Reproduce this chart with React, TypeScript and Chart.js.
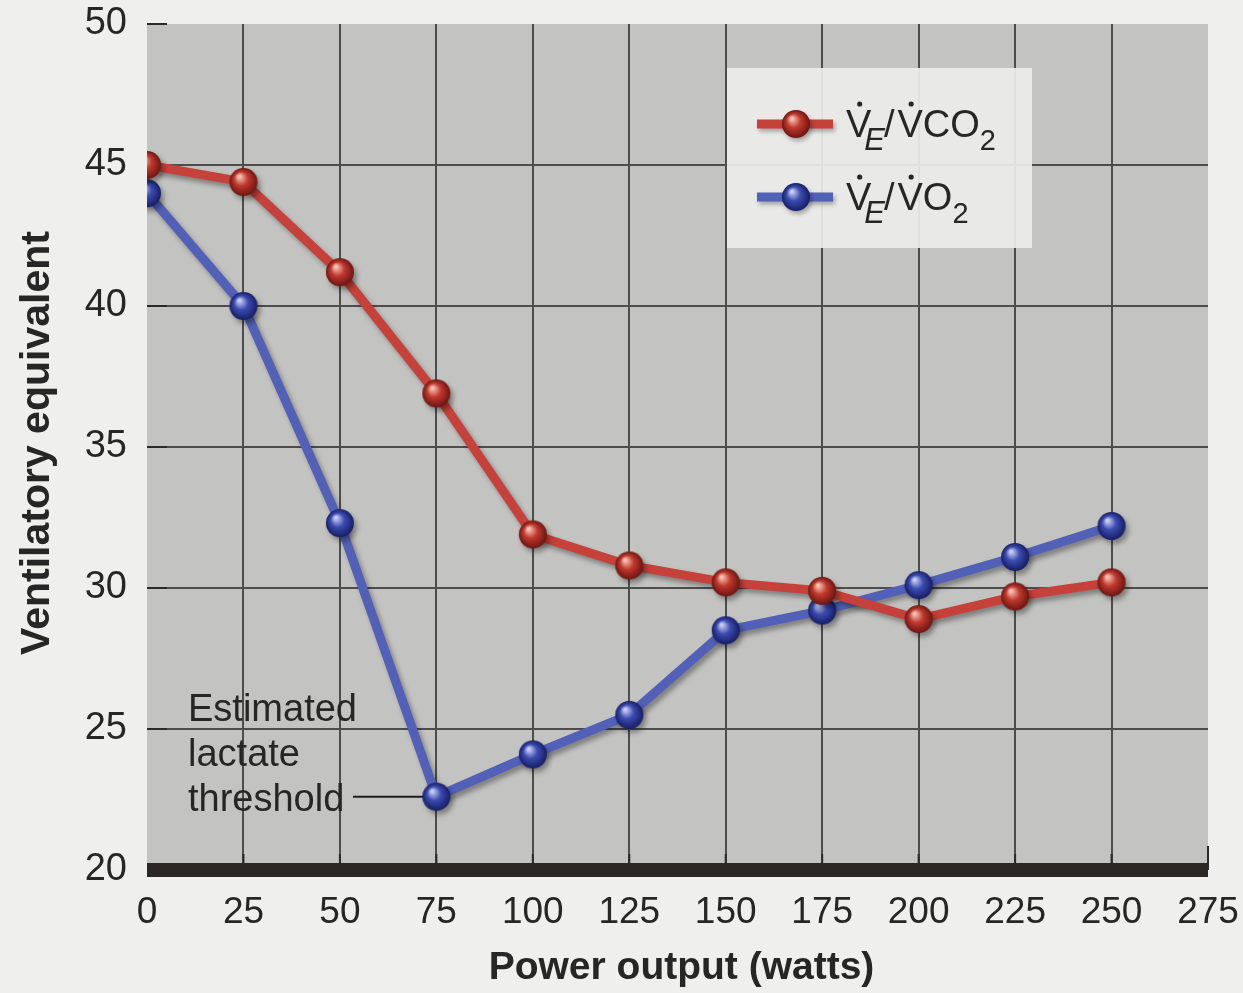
import React, { useEffect, useRef } from "react";
import { Chart, registerables } from "chart.js";

Chart.register(...registerables);

// ---- data ----
const powerWatts = [0, 25, 50, 75, 100, 125, 150, 175, 200, 225, 250];
const veOverVco2 = [45.0, 44.4, 41.2, 36.9, 31.9, 30.8, 30.2, 29.9, 28.9, 29.7, 30.2];
const veOverVo2 = [44.0, 40.0, 32.3, 22.6, 24.1, 25.5, 28.5, 29.2, 30.1, 31.1, 32.2];
const xTickValues = [0, 25, 50, 75, 100, 125, 150, 175, 200, 225, 250, 275];
const yTickValues = [20, 25, 30, 35, 40, 45, 50];
const xAxisTitle = "Power output (watts)";
const yAxisTitle = "Ventilatory equivalent";
const annotationLines = ["Estimated", "lactate", "threshold"];
const thresholdIndex = 3;

// ---- styles ----
const FONT = '"Liberation Sans", Arial, Helvetica, sans-serif';
const TEXT = "#262626";
const PAGE_BG = "#efefed";
const PLOT_BG = "#c3c3c1";
const GRID = "#4d4d4d";
const RED_LINE = "#c5413a";
const BLUE_LINE = "#5260b8";

function makeSphere(r: number, light: string, mid: string, dark: string) {
  const c = document.createElement("canvas");
  const s = Math.ceil(r * 2 + 2);
  c.width = s;
  c.height = s;
  const g = c.getContext("2d")!;
  const cx = s / 2;
  const cy = s / 2;
  const grad = g.createRadialGradient(cx - r * 0.3, cy - r * 0.4, r * 0.08, cx, cy, r);
  grad.addColorStop(0, light);
  grad.addColorStop(0.45, mid);
  grad.addColorStop(1, dark);
  g.fillStyle = grad;
  g.beginPath();
  g.arc(cx, cy, r, 0, Math.PI * 2);
  g.fill();
  return c;
}

function drawRatioLabel(ctx: CanvasRenderingContext2D, x: number, y: number, tail: string) {
  const big = `38px ${FONT}`;
  const sub = `italic 31px ${FONT}`;
  const sub2 = `29px ${FONT}`;
  ctx.fillStyle = TEXT;
  ctx.textAlign = "left";
  ctx.textBaseline = "alphabetic";
  const dot = (cx: number) => {
    ctx.beginPath();
    ctx.arc(cx, y - 33, 2.6, 0, Math.PI * 2);
    ctx.fill();
  };
  ctx.font = big;
  const vw = ctx.measureText("V").width;
  ctx.fillText("V", x, y);
  dot(x + vw / 2 + 1);
  ctx.font = sub;
  const ex = x + vw * 0.72;
  ctx.fillText("E", ex, y + 13);
  let cx = ex + ctx.measureText("E").width - 1;
  ctx.font = big;
  ctx.fillText("/", cx, y);
  cx += ctx.measureText("/").width + 3;
  ctx.fillText("V", cx, y);
  dot(cx + vw / 2 + 1);
  cx += vw;
  ctx.fillText(tail, cx, y);
  cx += ctx.measureText(tail).width;
  ctx.font = sub2;
  ctx.fillText("2", cx, y + 13);
}

function zeroPadding(s: any) {
  s.paddingTop = 0;
  s.paddingBottom = 0;
  s.paddingLeft = 0;
  s.paddingRight = 0;
}

export default function App() {
  const ref = useRef<HTMLCanvasElement | null>(null);

  useEffect(() => {
    const canvas = ref.current;
    if (!canvas) return;
    const redSphere = makeSphere(14, "#f6c2b4", "#c0392e", "#6e1510");
    const blueSphere = makeSphere(14, "#c8cdf6", "#3c4cb0", "#161e66");

    const decor = {
      id: "decor",
      beforeDraw(chart: any) {
        const { ctx, chartArea: a } = chart;
        ctx.save();
        ctx.fillStyle = PAGE_BG;
        ctx.fillRect(0, 0, chart.width, chart.height);
        ctx.fillStyle = PLOT_BG;
        ctx.fillRect(a.left, a.top, a.right - a.left, a.bottom - a.top);
        ctx.restore();
      },
      beforeDatasetsDraw(chart: any) {
        const { ctx, chartArea: a, scales } = chart;
        const xs = scales.x;
        const ys = scales.y;
        ctx.save();
        ctx.strokeStyle = "#2a2a2a";
        ctx.lineWidth = 2;
        // y tick marks inside
        yTickValues.forEach((v) => {
          if (v === yTickValues[0]) return;
          const py = ys.getPixelForValue(v);
          ctx.beginPath();
          ctx.moveTo(a.left, py);
          ctx.lineTo(a.left + 20, py);
          ctx.stroke();
        });
        // x tick marks inside
        xTickValues.forEach((v) => {
          if (v === 0) return;
          const px = xs.getPixelForValue(v);
          const len = v === xTickValues[xTickValues.length - 1] ? 24 : 16;
          ctx.beginPath();
          ctx.moveTo(px, a.bottom);
          ctx.lineTo(px, a.bottom - len);
          ctx.stroke();
        });
        // thick bottom bar
        ctx.fillStyle = "#2b2724";
        ctx.fillRect(a.left, a.bottom - 7, a.right - a.left, 14);
        // annotation
        const tx = xs.getPixelForValue(powerWatts[thresholdIndex]);
        const ty = ys.getPixelForValue(veOverVo2[thresholdIndex]);
        ctx.fillStyle = TEXT;
        ctx.font = `38px ${FONT}`;
        ctx.textAlign = "left";
        ctx.textBaseline = "alphabetic";
        const lx = a.left + 41;
        const n = annotationLines.length;
        annotationLines.forEach((t, i) => {
          ctx.fillText(t, lx, ty + 14 - (n - 1 - i) * 45);
        });
        ctx.strokeStyle = "#1e1e1e";
        ctx.lineWidth = 2;
        ctx.beginPath();
        ctx.moveTo(lx + 165, ty);
        ctx.lineTo(tx - 12, ty);
        ctx.stroke();
        ctx.restore();
        // shadow for datasets
        ctx.save();
        ctx.shadowColor = "rgba(0,0,0,0.35)";
        ctx.shadowOffsetX = 3;
        ctx.shadowOffsetY = 4;
        ctx.shadowBlur = 5;
      },
      afterDatasetsDraw(chart: any) {
        chart.ctx.restore();
      },
      afterDraw(chart: any) {
        const { ctx, chartArea: a } = chart;
        ctx.save();
        // legend box
        ctx.fillStyle = "rgba(236,236,234,0.93)";
        ctx.fillRect(727, 68, 305, 180);
        const rows = [
          { y: 124, color: RED_LINE, sphere: redSphere, tail: "CO" },
          { y: 197, color: BLUE_LINE, sphere: blueSphere, tail: "O" },
        ];
        rows.forEach((r) => {
          ctx.save();
          ctx.shadowColor = "rgba(0,0,0,0.3)";
          ctx.shadowOffsetX = 2;
          ctx.shadowOffsetY = 3;
          ctx.shadowBlur = 4;
          ctx.strokeStyle = r.color;
          ctx.lineWidth = 9;
          ctx.beginPath();
          ctx.moveTo(757, r.y);
          ctx.lineTo(833, r.y);
          ctx.stroke();
          ctx.drawImage(r.sphere, 796 - r.sphere.width / 2, r.y - r.sphere.height / 2);
          ctx.restore();
          drawRatioLabel(ctx, 846, r.y + 13, r.tail);
        });
        // axis titles
        ctx.fillStyle = TEXT;
        ctx.textAlign = "center";
        ctx.textBaseline = "middle";
        ctx.font = `bold 39px ${FONT}`;
        ctx.fillText(xAxisTitle, (a.left + a.right) / 2 + 4, 968);
        ctx.font = `bold 41px ${FONT}`;
        ctx.translate(38, (a.top + a.bottom) / 2 - 4);
        ctx.rotate(-Math.PI / 2);
        ctx.fillText(yAxisTitle, 0, 0);
        ctx.restore();
      },
    };

    const chart = new Chart(canvas, {
      type: "line",
      data: {
        datasets: [
          {
            label: "VE/VCO2",
            data: powerWatts.map((x, i) => ({ x, y: veOverVco2[i] })),
            borderColor: RED_LINE,
            borderWidth: 9,
            pointStyle: redSphere as any,
            pointRadius: 14,
            tension: 0,
          },
          {
            label: "VE/VO2",
            data: powerWatts.map((x, i) => ({ x, y: veOverVo2[i] })),
            borderColor: BLUE_LINE,
            borderWidth: 9,
            pointStyle: blueSphere as any,
            pointRadius: 14,
            tension: 0,
          },
        ],
      },
      plugins: [decor],
      options: {
        animation: false,
        responsive: false,
        devicePixelRatio: 1,
        layout: { padding: { top: 24, right: 35, left: 0, bottom: 0 } },
        plugins: { legend: { display: false }, tooltip: { enabled: false } },
        scales: {
          x: {
            type: "linear",
            min: xTickValues[0],
            max: xTickValues[xTickValues.length - 1],
            afterBuildTicks: (s: any) => {
              s.ticks = xTickValues.map((v) => ({ value: v }));
            },
            afterFit: (s: any) => {
              s.height = 123;
              zeroPadding(s);
            },
            border: { display: false },
            grid: {
              drawTicks: false,
              lineWidth: 2,
              color: (c: any) =>
                c.tick && (c.tick.value === xTickValues[0] || c.tick.value === xTickValues[xTickValues.length - 1])
                  ? "rgba(0,0,0,0)"
                  : GRID,
            },
            ticks: {
              padding: 21,
              color: TEXT,
              font: { family: FONT, size: 37 },
              maxRotation: 0,
              autoSkip: false,
            },
          },
          y: {
            type: "linear",
            min: yTickValues[0],
            max: yTickValues[yTickValues.length - 1],
            afterBuildTicks: (s: any) => {
              s.ticks = yTickValues.map((v) => ({ value: v }));
            },
            afterFit: (s: any) => {
              s.width = 147;
              zeroPadding(s);
            },
            border: { display: false },
            grid: {
              drawTicks: false,
              lineWidth: 2,
              color: (c: any) =>
                c.tick && (c.tick.value === yTickValues[0] || c.tick.value === yTickValues[yTickValues.length - 1])
                  ? "rgba(0,0,0,0)"
                  : GRID,
            },
            ticks: {
              padding: 20,
              color: TEXT,
              font: { family: FONT, size: 38 },
              autoSkip: false,
            },
          },
        },
      },
    } as any);
    return () => chart.destroy();
  }, []);

  return (
    <div style={{ position: "fixed", left: 0, top: 0, width: 1243, height: 993, background: PAGE_BG }}>
      <canvas ref={ref} width={1243} height={993} style={{ display: "block", width: 1243, height: 993 }} />
    </div>
  );
}
